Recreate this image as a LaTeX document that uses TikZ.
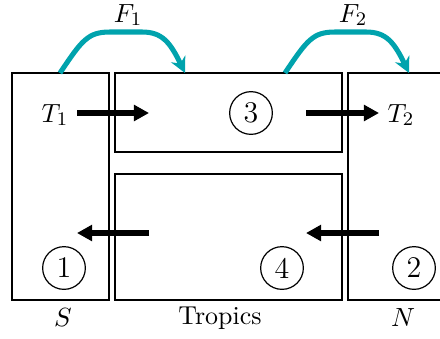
\documentclass[tikz,border=0pt]{standalone}
\usetikzlibrary{arrows.meta}
\definecolor{fluxteal}{RGB}{0,163,173}
\begin{document}
\begin{tikzpicture}[x=0.4167pt,y=-0.4167pt,font=\fontsize{10.8}{13}\selectfont,
        box/.style={draw,line width=0.6pt},
        num/.style={draw,circle,line width=0.5pt,minimum size=17.8pt,inner sep=0pt,font=\fontsize{12.5}{15}\selectfont},
        flow/.style={line width=2.5pt,-{Triangle[length=6.3pt,width=6.5pt]}},
        flux/.style={fluxteal,line width=2.1pt,-{Stealth[length=6.5pt,width=6.5pt]}}]
        \useasboundingbox (0,0) rectangle (440,338);
        \begin{scope}
            \draw[box] (12,73) rectangle (109,300);
            \draw[box] (115,73) rectangle (342,152);
            \draw[box] (115,174) rectangle (342,300);
            \draw[box] (445,73) -- (348,73) -- (348,300) -- (445,300);
        \end{scope}
        \node[num] (c1) at (64,268) {1};
        \node[num] (c2) at (414,268) {2};
        \node[num] (c3) at (251,113) {3};
        \node[num] (c4) at (282,268) {4};
        \node (lS) at (63,318) {$S$};
        \node (lT) at (220,318) {Tropics};
        \node (lN) at (403,318) {$N$};
        \node (t1) at (55,115) {$T_1$};
        \node (t2) at (401,115) {$T_2$};
        \node (f1) at (128,15) {$F_1$};
        \node (f2) at (353,15) {$F_2$};
        \coordinate (a1) at (77,113);
        \coordinate (b1) at (149,113);
        \coordinate (a2) at (306,113);
        \coordinate (b2) at (379,113);
        \coordinate (a3) at (149,233);
        \coordinate (b3) at (77,233);
        \coordinate (a4) at (379,233);
        \coordinate (b4) at (306,233);
        \draw[flow] (a1) -- (b1);
        \draw[flow] (a2) -- (b2);
        \draw[flow] (a3) -- (b3);
        \draw[flow] (a4) -- (b4);
        \coordinate (s1) at (60,73);
        \coordinate (e1) at (185,73);
        \coordinate (s2) at (285,73);
        \coordinate (e2) at (409,73);
        \draw[flux] (s1) .. controls (82,40) and (88,32) .. (110,32) -- (142,32) .. controls (162,32) and (170,42) .. (e1);
        \draw[flux] (s2) .. controls (307,40) and (313,32) .. (335,32) -- (366,32) .. controls (386,32) and (394,42) .. (e2);
    \end{tikzpicture}
\end{document}
